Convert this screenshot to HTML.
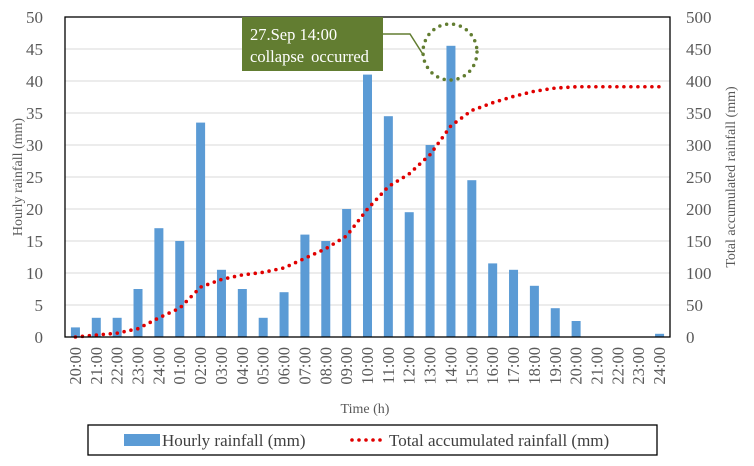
<!DOCTYPE html>
<html><head><meta charset="utf-8"><style>
body{margin:0;background:#fff;}
svg{display:block;}
svg text{font-family:"Liberation Serif","Times New Roman",serif;}
</style></head><body>
<svg id="c" width="754" height="466" viewBox="0 0 754 466" font-family="Liberation Serif, serif">
<g id="grid"></g><g id="bars"></g><g id="line"></g><g id="axes"></g>
<rect x="65" y="17" width="605" height="320" fill="none" stroke="#000" stroke-width="1.3"/>
<text transform="translate(22,177) rotate(-90)" text-anchor="middle" font-size="14" fill="#595959">Hourly rainfall (mm)</text>
<text transform="translate(735,177) rotate(-90)" text-anchor="middle" font-size="14" fill="#595959">Total accumulated rainfall (mm)</text>
<text x="365" y="413" text-anchor="middle" font-size="14" fill="#595959">Time (h)</text>
<g>
<rect x="242" y="17" width="141" height="54" fill="#627d31"/>
<text x="250" y="40" font-size="16.5" fill="#fff">27.Sep 14:00</text>
<text x="250" y="62" font-size="16.5" fill="#fff" word-spacing="3">collapse occurred</text>
<polyline points="383,34 410,34 424,56" fill="none" stroke="#627d31" stroke-width="1.5"/>
<ellipse cx="450" cy="52" rx="27" ry="28" fill="none" stroke="#627d31" stroke-width="3.5" stroke-linecap="round" stroke-dasharray="0 7"/>
</g>
<g>
<rect x="88" y="425" width="569" height="30" fill="#fff" stroke="#000" stroke-width="1.3"/>
<rect x="124" y="434" width="36" height="12" fill="#5b9bd5"/>
<text x="162" y="446" font-size="17" fill="#404040">Hourly rainfall (mm)</text>
<line x1="352" y1="440" x2="381" y2="440" stroke="#e00000" stroke-width="3.6" stroke-linecap="round" stroke-dasharray="0 7"/>
<text x="389" y="446" font-size="17" fill="#404040">Total accumulated rainfall (mm)</text>
</g>
</svg>
<script>
const categories=["20:00","21:00","22:00","23:00","24:00","01:00","02:00","03:00","04:00","05:00","06:00","07:00","08:00","09:00","10:00","11:00","12:00","13:00","14:00","15:00","16:00","17:00","18:00","19:00","20:00","21:00","22:00","23:00","24:00"];
const hourly=[1.5,3,3,7.5,17,15,33.5,10.5,7.5,3,7,16,15,20,41,34.5,19.5,30,45.5,24.5,11.5,10.5,8,4.5,2.5,0,0,0,0.5];
const accumulated=[0,3,6,13,30,45,78,90,97,101,108,123,138,158,200,235,255,285,330,354,366,376,384,389,391,391,391,391,391];
const leftTicks=[0,5,10,15,20,25,30,35,40,45,50];
const rightTicks=[0,50,100,150,200,250,300,350,400,450,500];
const NS="http://www.w3.org/2000/svg";
const X0=65,X1=670,Y0=337,Y1=17;
const step=(X1-X0)/categories.length;
const xc=i=>X0+step*(i+0.5);
const yL=v=>Y0-(v/50)*(Y0-Y1);
const yR=v=>Y0-(v/500)*(Y0-Y1);
function mk(tag,attrs,parent,text){const e=document.createElementNS(NS,tag);for(const k in attrs)e.setAttribute(k,attrs[k]);if(text!==undefined)e.textContent=text;document.getElementById(parent).appendChild(e);return e;}
leftTicks.forEach(t=>{
  if(t>0){const g=mk('line',{x1:X0,x2:X1,y1:yL(t),y2:yL(t),stroke:'#d9d9d9','stroke-width':1},'grid');
  
  }
  const l=mk('text',{x:43,y:yL(t)+6,'text-anchor':'end','font-size':17,fill:'#595959'},'axes',t);
  
  
});
rightTicks.forEach(t=>{
  const l=mk('text',{x:686,y:yR(t)+6,'font-size':17,fill:'#595959'},'axes',t);
  
  
});
hourly.forEach((v,i)=>{
  const b=mk('rect',{x:xc(i)-4.5,y:yL(v),width:9,height:Y0-yL(v),fill:'#5b9bd5'},'bars');
  
  
});
const pts=accumulated.map((v,i)=>xc(i)+','+yR(v)).join(' ');
const pl=mk('polyline',{points:pts,fill:'none',stroke:'#e00000','stroke-width':3.6,'stroke-linecap':'round','stroke-dasharray':'0 7'},'line');


categories.forEach((c,i)=>{
  const t=mk('text',{transform:`translate(${xc(i)+5.5},347) rotate(-90)`,'text-anchor':'end','font-size':16.5,fill:'#595959'},'axes',c);
  
  
});
</script>
</body></html>
